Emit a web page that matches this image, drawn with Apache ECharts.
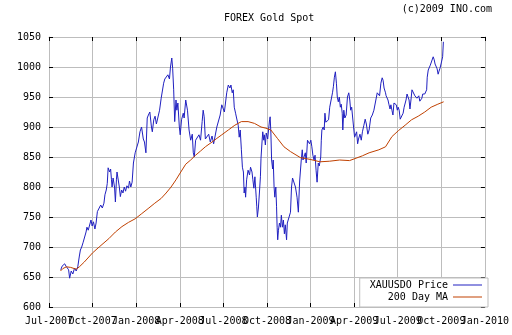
<!DOCTYPE html>
<html><head><meta charset="utf-8">
<script src="https://cdn.jsdelivr.net/npm/echarts@6/dist/echarts.min.js"></script>
<style>html,body{margin:0;padding:0;background:#fff}#c{width:512px;height:335px}</style>
</head><body><div id="c"></div>
<script>
// x values are months since 1 Jul 2007
const xTickLabels = ['Jul-2007','Oct-2007','Jan-2008','Apr-2008','Jul-2008','Oct-2008','Jan-2009','Apr-2009','Jul-2009','Oct-2009','Jan-2010'];
const xTickMonths = [0, 3, 6, 9, 12, 15, 18, 21, 24, 27, 30];
const seriesNames = ['XAUUSDO Price', '200 Day MA'];
const priceMonths = [0.81,0.90,0.99,1.08,1.17,1.26,1.35,1.42,1.53,1.64,1.76,1.87,1.98,2.09,2.16,2.25,2.34,2.43,2.55,2.61,2.70,2.79,2.89,2.97,3.06,3.16,3.24,3.33,3.45,3.56,3.67,3.78,3.85,3.94,4.01,4.07,4.17,4.24,4.30,4.34,4.41,4.51,4.57,4.64,4.68,4.78,4.84,4.91,5.00,5.09,5.18,5.27,5.36,5.47,5.54,5.63,5.72,5.81,5.93,6.03,6.15,6.26,6.37,6.49,6.57,6.67,6.76,6.84,6.94,7.05,7.11,7.21,7.30,7.39,7.50,7.61,7.72,7.82,7.89,7.97,8.06,8.18,8.29,8.36,8.45,8.51,8.58,8.65,8.74,8.80,8.87,8.97,9.03,9.12,9.24,9.30,9.41,9.53,9.64,9.75,9.86,9.93,10.00,10.09,10.20,10.32,10.43,10.54,10.61,10.68,10.76,10.88,10.99,11.10,11.22,11.33,11.44,11.55,11.67,11.78,11.89,12.01,12.07,12.16,12.23,12.34,12.45,12.52,12.61,12.68,12.75,12.84,12.91,13.02,13.09,13.16,13.24,13.31,13.38,13.43,13.49,13.53,13.60,13.70,13.80,13.87,13.97,14.03,14.10,14.17,14.26,14.30,14.34,14.41,14.48,14.55,14.59,14.66,14.71,14.78,14.82,14.89,14.95,15.05,15.11,15.18,15.22,15.27,15.32,15.39,15.43,15.49,15.54,15.61,15.66,15.70,15.74,15.79,15.86,15.93,15.99,16.06,16.13,16.20,16.26,16.35,16.40,16.51,16.62,16.69,16.76,16.84,16.96,17.07,17.16,17.25,17.36,17.43,17.48,17.57,17.64,17.70,17.79,17.86,17.93,18.02,18.09,18.16,18.24,18.31,18.38,18.45,18.53,18.60,18.70,18.74,18.78,18.87,18.94,18.99,19.05,19.14,19.24,19.32,19.41,19.51,19.57,19.64,19.71,19.78,19.84,19.91,19.98,20.05,20.11,20.18,20.22,20.29,20.36,20.45,20.54,20.63,20.70,20.76,20.83,20.90,20.97,21.03,21.10,21.17,21.24,21.30,21.40,21.49,21.57,21.67,21.76,21.84,21.94,22.03,22.14,22.25,22.36,22.48,22.59,22.66,22.75,22.84,22.93,22.99,23.06,23.16,23.20,23.26,23.33,23.40,23.47,23.53,23.60,23.67,23.74,23.83,23.90,23.97,24.03,24.10,24.17,24.24,24.30,24.37,24.44,24.51,24.57,24.64,24.71,24.78,24.84,24.91,24.98,25.05,25.11,25.18,25.25,25.32,25.39,25.45,25.52,25.59,25.66,25.72,25.79,25.86,25.93,25.99,26.03,26.10,26.17,26.24,26.30,26.37,26.44,26.51,26.57,26.64,26.71,26.78,26.84,26.91,26.98,27.05,27.09,27.14];
const priceValues = [662,668,665,672,668,670,662,648,660,655,665,660,667,685,695,700,707,705,725,733,728,730,745,735,742,730,740,759,762,770,765,773,787,795,806,832,825,830,812,800,815,800,775,812,825,823,800,784,795,790,800,793,802,798,810,800,808,840,857,860,875,892,900,880,875,857,915,920,925,900,892,912,918,905,902,928,948,945,973,980,978,987,980,1000,1015,998,962,909,945,928,940,900,887,912,923,915,945,928,895,878,888,857,850,878,880,887,878,909,928,917,880,878,888,875,885,872,875,900,900,920,937,938,925,928,957,970,965,970,957,962,933,923,915,903,883,895,862,833,825,790,800,783,812,828,820,833,825,812,798,817,783,767,750,765,790,817,848,875,892,878,887,870,890,880,895,912,917,890,845,830,845,800,783,800,767,733,712,728,740,733,753,733,745,722,737,712,740,737,758,800,815,812,800,783,758,810,845,862,845,843,857,840,878,880,872,878,867,853,845,853,828,808,840,835,850,878,895,900,895,923,908,905,912,933,935,957,967,983,992,973,950,942,950,933,938,923,895,928,915,920,950,957,945,928,933,915,913,883,880,892,872,880,888,878,892,903,913,905,888,895,915,920,928,930,957,955,952,973,982,978,965,957,952,955,945,937,930,937,928,920,940,942,937,928,933,928,913,912,912,923,933,930,945,955,952,945,930,945,962,965,962,952,955,948,945,952,943,940,948,955,952,955,952,962,983,995,992,1003,1005,1003,1017,1012,1005,1008,997,988,993,998,1005,1008,1017,1042];
const maMonths = [0.79,0.95,1.20,1.49,1.87,2.09,2.43,2.99,3.45,4.12,4.57,5.02,5.47,5.93,6.35,6.82,7.28,7.72,8.06,8.40,8.74,9.07,9.41,9.75,10.09,10.43,10.76,11.22,11.55,11.89,12.34,12.79,13.24,13.70,14.14,14.59,14.93,15.27,15.72,16.17,16.62,17.30,17.97,18.65,19.32,20.00,20.68,21.13,21.57,22.03,22.70,23.16,23.60,24.05,24.51,24.95,25.41,25.86,26.30,26.76,27.16];
const maValues = [660,664,667,666,663,667,675,690,700,714,725,734,741,747,755,764,773,781,790,800,812,825,838,845,853,860,867,875,881,887,895,903,909,909,906,900,898,895,881,867,859,849,846,842,843,845,844,848,852,857,862,867,884,894,903,912,918,925,933,938,942];

const FONT = 'DejaVu Sans Mono';
const GRID = '#bdbdbd';
const chart = echarts.init(document.getElementById('c'), null, {renderer: 'canvas'});

const labelStyle = {fontFamily: FONT, fontSize: 10, color: '#000'};
function monthLabel(v) { return xTickLabels[xTickMonths.indexOf(Math.round(v))]; }

function xAx(pos, kind) {
  const ax = {
    type: 'value', min: 0, max: 30, interval: 3, position: pos,
    axisLine: {show: kind !== 'odd', onZero: false, lineStyle: {color: GRID, width: 1}},
    axisTick: {show: kind !== 'odd', inside: true, length: 4, lineStyle: {color: '#000', width: 1}},
    axisLabel: {show: false},
    splitLine: {show: kind === 'even', lineStyle: {color: GRID, width: 1}}
  };
  if (kind === 'even' || kind === 'odd') {
    // labels alternate between two bottom axes so that overlapping labels are all kept, as in the original
    const vals = xTickMonths.filter((m, i) => (kind === 'even') === (i % 2 === 0));
    ax.axisLabel = Object.assign({show: true, customValues: vals, formatter: monthLabel,
      margin: 9, hideOverlap: false, showMinLabel: true, showMaxLabel: true}, labelStyle);
  }
  return ax;
}
function yAx(pos, main) {
  return {
    type: 'value', min: 600, max: 1050, interval: 50, position: pos,
    axisLine: {show: true, onZero: false, lineStyle: {color: GRID, width: 1}},
    axisTick: {show: true, inside: true, length: 4, lineStyle: {color: '#000', width: 1}},
    axisLabel: main ? Object.assign({show: true, formatter: v => String(v), margin: 8, showMinLabel: true, showMaxLabel: true}, labelStyle) : {show: false},
    splitLine: {show: main, lineStyle: {color: GRID, width: 1}}
  };
}

chart.setOption({
  animation: false,
  backgroundColor: '#fff',
  title: [
    {text: 'FOREX Gold Spot', left: 224, top: 13, padding: 0,
     textStyle: {fontFamily: FONT, fontSize: 10, fontWeight: 'normal', color: '#000'}},
    {text: '(c)2009 INO.com', right: 20, top: 4, padding: 0,
     textStyle: {fontFamily: FONT, fontSize: 10, fontWeight: 'normal', color: '#000'}}
  ],
  grid: {left: 49, right: 19, top: 37, bottom: 28, containLabel: false},
  xAxis: [xAx('bottom', 'even'), xAx('top', 'top'), xAx('bottom', 'odd')],
  yAxis: [yAx('left', true), yAx('right', false)],
  legend: {
    orient: 'vertical', align: 'right', right: 24, top: 278,
    padding: [1, 6, 4, 10], itemGap: 0, itemWidth: 29, itemHeight: 1,
    icon: 'rect',
    backgroundColor: '#fff', borderColor: GRID, borderWidth: 1, borderRadius: 0,
    textStyle: {fontFamily: FONT, fontSize: 10, color: '#000', lineHeight: 12},
    data: seriesNames
  },
  series: [
    {name: seriesNames[0], type: 'line', xAxisIndex: 0, yAxisIndex: 0, symbol: 'none',
     lineStyle: {color: '#2020c0', width: 1}, itemStyle: {color: '#2020c0'},
     data: priceMonths.map((m, i) => [m, priceValues[i]])},
    {name: seriesNames[1], type: 'line', xAxisIndex: 0, yAxisIndex: 0, symbol: 'none',
     lineStyle: {color: '#c04000', width: 1}, itemStyle: {color: '#c04000'},
     data: maMonths.map((m, i) => [m, maValues[i]])}
  ]
});
</script>
</body></html>
